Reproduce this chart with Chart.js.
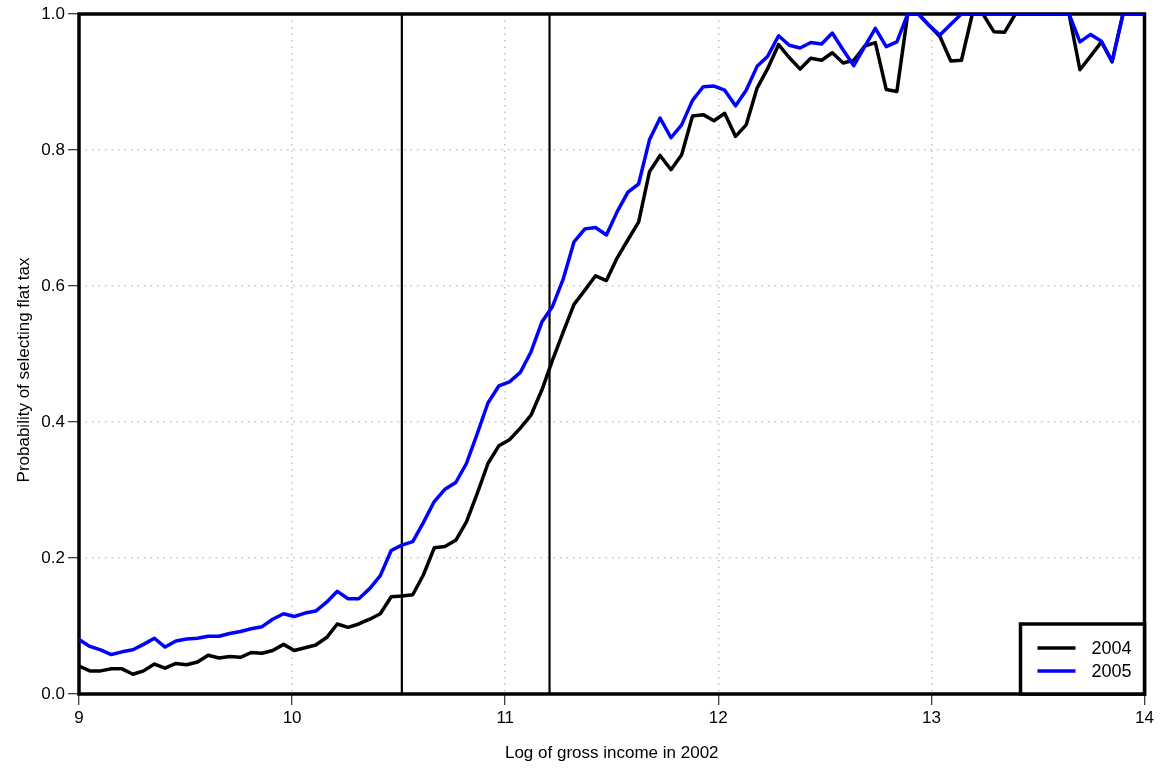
<!DOCTYPE html>
<html>
<head>
<meta charset="utf-8">
<title>Probability of selecting flat tax</title>
<script src="https://cdn.jsdelivr.net/npm/chart.js@4.4.1/dist/chart.umd.min.js"></script>
<style>
  html, body { margin: 0; padding: 0; background: #fff; }
  #wrap { width: 1160px; height: 772px; }
</style>
</head>
<body>
<div id="wrap"><canvas id="flatTaxChart" width="1160" height="772"></canvas></div>
<script>
// log gross income (2002), bin centres
const incomeGrid = [
  9.000, 9.051, 9.101, 9.152, 9.202, 9.253, 9.303, 9.354, 9.404, 9.455,
  9.505, 9.556, 9.606, 9.657, 9.707, 9.758, 9.808, 9.859, 9.909, 9.960,
  10.010, 10.061, 10.111, 10.162, 10.212, 10.263, 10.313, 10.364, 10.414, 10.465,
  10.515, 10.566, 10.616, 10.667, 10.717, 10.768, 10.818, 10.869, 10.919, 10.970,
  11.020, 11.071, 11.121, 11.172, 11.222, 11.273, 11.323, 11.374, 11.424, 11.475,
  11.525, 11.576, 11.626, 11.677, 11.727, 11.778, 11.828, 11.879, 11.929, 11.980,
  12.030, 12.081, 12.131, 12.182, 12.232, 12.283, 12.333, 12.384, 12.434, 12.485,
  12.535, 12.586, 12.636, 12.687, 12.737, 12.788, 12.838, 12.889, 12.939, 12.990,
  13.040, 13.091, 13.141, 13.192, 13.242, 13.293, 13.343, 13.394, 13.444, 13.495,
  13.545, 13.596, 13.646, 13.697, 13.747, 13.798, 13.848, 13.899, 13.949, 14.000
];

const flat2004 = [
  0.041, 0.034, 0.034, 0.037, 0.037, 0.029, 0.034, 0.044, 0.038, 0.045,
  0.043, 0.047, 0.057, 0.053, 0.055, 0.054, 0.061, 0.060, 0.064, 0.073,
  0.064, 0.068, 0.072, 0.083, 0.103, 0.098, 0.103, 0.110, 0.118, 0.143,
  0.144, 0.146, 0.175, 0.215, 0.217, 0.226, 0.253, 0.295, 0.339, 0.365,
  0.374, 0.391, 0.410, 0.447, 0.491, 0.533, 0.573, 0.594, 0.615, 0.608,
  0.641, 0.668, 0.694, 0.768, 0.792, 0.771, 0.793, 0.850, 0.852, 0.843,
  0.854, 0.820, 0.837, 0.891, 0.920, 0.955, 0.936, 0.919, 0.935, 0.932,
  0.943, 0.928, 0.932, 0.953, 0.958, 0.889, 0.886, 1.000, 1.000, 0.983,
  0.967, 0.931, 0.932, 1.000, 1.000, 0.974, 0.973, 1.000, 1.000, 1.000,
  1.000, 1.000, 1.000, 0.918, 0.938, 0.959, 0.930, 1.000, 1.000, 1.000
];

const flat2005 = [
  0.080, 0.070, 0.065, 0.058, 0.062, 0.065, 0.073, 0.082, 0.069, 0.078,
  0.081, 0.082, 0.085, 0.085, 0.089, 0.092, 0.096, 0.099, 0.110, 0.118,
  0.114, 0.119, 0.122, 0.135, 0.151, 0.140, 0.140, 0.155, 0.174, 0.211,
  0.219, 0.224, 0.252, 0.283, 0.301, 0.311, 0.339, 0.383, 0.428, 0.453,
  0.459, 0.473, 0.503, 0.547, 0.570, 0.611, 0.665, 0.684, 0.686, 0.675,
  0.709, 0.738, 0.750, 0.815, 0.847, 0.818, 0.837, 0.873, 0.893, 0.894,
  0.888, 0.865, 0.888, 0.923, 0.938, 0.968, 0.954, 0.950, 0.958, 0.956,
  0.972, 0.947, 0.924, 0.952, 0.979, 0.952, 0.959, 1.000, 1.000, 0.983,
  0.969, 0.985, 1.000, 1.000, 1.000, 1.000, 1.000, 1.000, 1.000, 1.000,
  1.000, 1.000, 1.000, 0.959, 0.970, 0.960, 0.930, 1.000, 1.000, 1.000
];

// income thresholds marked with vertical lines
const cutoffs = [10.515, 11.208];

const seriesLabels = ['2004', '2005'];
const seriesColors = ['#000000', '#0000ff'];

const xTicks = [9, 10, 11, 12, 13, 14];
const yTicks = [0, 0.2, 0.4, 0.6, 0.8, 1.0];

const yTitle = 'Probability of selecting flat tax';

const FONT = '"Liberation Sans", Arial, Helvetica, sans-serif';

function toPoints(xs, ys) {
  return xs.map((x, i) => ({ x: x, y: ys[i] }));
}

// plot frame, drawn under the lines (lines at 1.0 sit on top of it)
const framePlugin = {
  id: 'frame',
  beforeDatasetsDraw(chart) {
    const a = chart.chartArea;
    const ctx = chart.ctx;
    ctx.save();
    ctx.strokeStyle = '#000';
    ctx.lineWidth = 3.5;
    ctx.strokeRect(a.left, a.top, a.right - a.left, a.bottom - a.top);
    ctx.restore();
  },
  // y axis title, a bit below the middle of the plot
  afterDraw(chart) {
    const a = chart.chartArea;
    const ctx = chart.ctx;
    ctx.save();
    ctx.translate(24, (a.top + a.bottom) / 2 + 16);
    ctx.rotate(-Math.PI / 2);
    ctx.font = '17px ' + FONT;
    ctx.fillStyle = '#000';
    ctx.textAlign = 'center';
    ctx.textBaseline = 'middle';
    ctx.fillText(yTitle, 0, 0);
    ctx.restore();
  }
};

// legend box in the lower right corner
const legendBoxPlugin = {
  id: 'legendBox',
  afterDatasetsDraw(chart) {
    const a = chart.chartArea;
    const ctx = chart.ctx;
    const boxW = 124, boxH = 70;
    const x0 = a.right - boxW, y0 = a.bottom - boxH;
    ctx.save();
    ctx.fillStyle = '#fff';
    ctx.fillRect(x0, y0, boxW, boxH);
    ctx.strokeStyle = '#000';
    ctx.lineWidth = 3.5;
    ctx.strokeRect(x0, y0, boxW, boxH);
    ctx.font = '18px ' + FONT;
    ctx.textBaseline = 'middle';
    ctx.textAlign = 'left';
    seriesLabels.forEach((lab, i) => {
      const y = y0 + 24 + i * 23;
      ctx.strokeStyle = seriesColors[i];
      ctx.lineWidth = 3.5;
      ctx.beginPath();
      ctx.moveTo(x0 + 17, y);
      ctx.lineTo(x0 + 55, y);
      ctx.stroke();
      ctx.fillStyle = '#000';
      ctx.fillText(lab, x0 + 71, y + 1);
    });
    ctx.restore();
  }
};

const lineSets = [
  {
    label: seriesLabels[1],
    data: toPoints(incomeGrid, flat2005),
    borderColor: seriesColors[1],
    borderWidth: 3.5,
    order: 1
  },
  {
    label: seriesLabels[0],
    data: toPoints(incomeGrid, flat2004),
    borderColor: seriesColors[0],
    borderWidth: 3.5,
    order: 2
  }
];

cutoffs.forEach((c) => {
  lineSets.push({
    label: 'cutoff',
    data: [{ x: c, y: 0 }, { x: c, y: 1 }],
    borderColor: '#000',
    borderWidth: 2.2,
    order: 3
  });
});

const gridStyle = {
  color: '#c4c4c4',
  lineWidth: 1.5,
  tickColor: '#000',
  tickBorderDash: [],
  tickWidth: 1,
  tickLength: 11
};

// v4 takes the grid line dash from the border options
const borderStyle = { display: false, dash: [1.5, 5] };

new Chart(document.getElementById('flatTaxChart'), {
  type: 'line',
  data: { datasets: lineSets },
  options: {
    responsive: false,
    animation: false,
    devicePixelRatio: 1,
    layout: { padding: { left: 0, right: 15.5, top: 14, bottom: 0 } },
    elements: {
      point: { radius: 0, hoverRadius: 0 },
      line: { tension: 0, borderCapStyle: 'butt', borderJoinStyle: 'round', fill: false }
    },
    plugins: {
      legend: { display: false },
      tooltip: { enabled: false }
    },
    scales: {
      x: {
        type: 'linear',
        min: 9,
        max: 14,
        afterFit(scale) { scale.height = 78; },
        afterBuildTicks(scale) { scale.ticks = xTicks.map(v => ({ value: v })); },
        border: borderStyle,
        grid: gridStyle,
        ticks: {
          color: '#000',
          font: { family: FONT, size: 17 },
          padding: 3,
          maxRotation: 0,
          callback: (v) => String(v)
        },
        title: {
          display: true,
          text: 'Log of gross income in 2002',
          color: '#000',
          font: { family: FONT, size: 17 },
          padding: { top: 0, bottom: 8 }
        }
      },
      y: {
        type: 'linear',
        min: 0,
        max: 1,
        afterFit(scale) { scale.width = 79; },
        afterBuildTicks(scale) { scale.ticks = yTicks.map(v => ({ value: v })); },
        border: borderStyle,
        grid: gridStyle,
        ticks: {
          color: '#000',
          font: { family: FONT, size: 17 },
          padding: 3,
          callback: (v) => Number(v).toFixed(1)
        }
      }
    }
  },
  plugins: [framePlugin, legendBoxPlugin]
});
</script>
</body>
</html>
